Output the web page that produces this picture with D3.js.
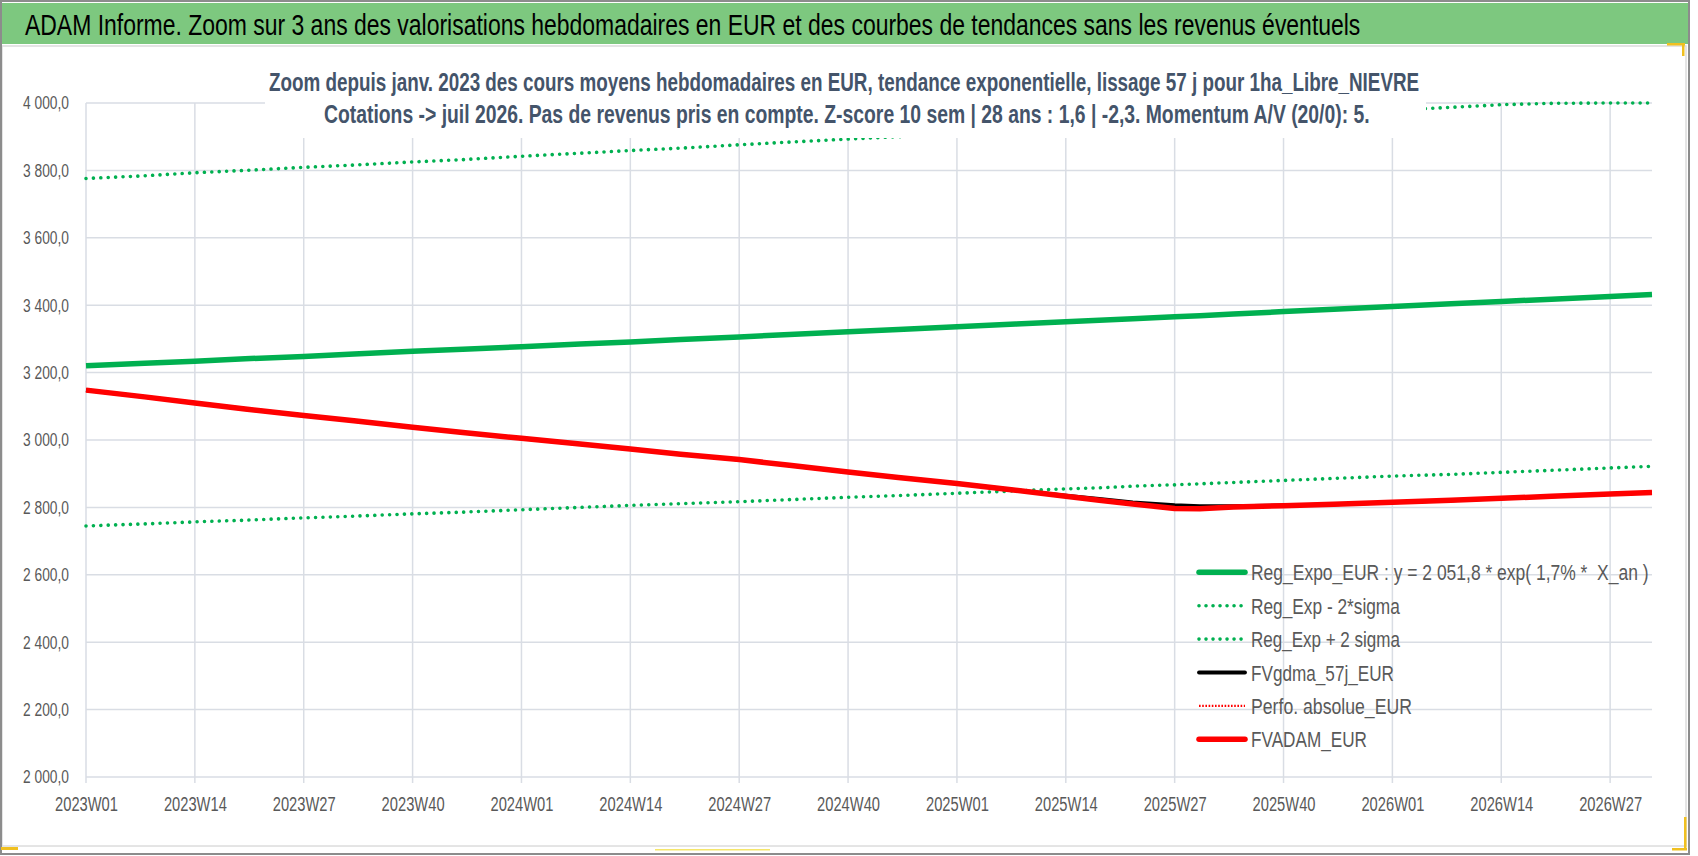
<!DOCTYPE html>
<html><head><meta charset="utf-8">
<script src="https://cdn.jsdelivr.net/npm/d3@7/dist/d3.min.js"></script>
<style>
body{margin:0;background:#fff;}
text{white-space:pre;}
</style>
</head><body>
<svg id="chart" width="1698" height="856"></svg>
<script>
// ---------- DATA ----------
const mainTitle = "ADAM Informe. Zoom sur 3 ans des valorisations hebdomadaires en EUR et des courbes de tendances sans les revenus éventuels";
const subTitle1 = "Zoom depuis janv. 2023 des cours moyens hebdomadaires en EUR, tendance exponentielle, lissage 57 j pour 1ha_Libre_NIEVRE";
const subTitle2 = "Cotations -> juil 2026. Pas de revenus pris en compte. Z-score 10 sem | 28 ans : 1,6 | -2,3. Momentum A/V (20/0): 5.";

const weekYears = [2023, 2024, 2025, 2026];
const weeksPerYear = [52, 52, 52, 32];
const tickLabels = ["2023W01","2023W14","2023W27","2023W40","2024W01","2024W14","2024W27","2024W40",
                    "2025W01","2025W14","2025W27","2025W40","2026W01","2026W14","2026W27"];
const yTicks = [2000,2200,2400,2600,2800,3000,3200,3400,3600,3800,4000];

const sampleWeeks = ["2023W01","2023W08","2023W14","2023W20","2023W27","2023W33","2023W40","2023W46",
                     "2024W01","2024W08","2024W14","2024W20","2024W27","2024W33","2024W40","2024W46",
                     "2025W01","2025W08","2025W14","2025W18","2025W22","2025W27","2025W30","2025W34","2025W40","2025W46",
                     "2026W01","2026W08","2026W14","2026W20","2026W27","2026W32"];
const regExpo  = [3220,3228,3234,3241,3248,3255,3263,3269, 3277,3285,3291,3298,3306,3313,3321,3328,
                  3336,3344,3351,3355,3360,3366,3369,3374,3381,3388, 3396,3404,3411,3418,3426,3432];
const regMinus = [2745,2751,2757,2762,2769,2774,2781,2786, 2793,2800,2806,2811,2817,2823,2830,2835,
                  2842,2849,2855,2858,2863,2867,2870,2874,2880,2886, 2893,2898,2904,2910,2917,2922];
const regPlus  = [3776,3784,3793,3800,3809,3816,3825,3832, 3842,3851,3859,3866,3876,3884,3893,3900,
                  3910,3919,3927,3932,3938,3944,3948,3953,3961,3969, 3979,3987,3995,3999,4000,4000];
const fvgdma   = [3148,3128,3110,3092,3073,3057,3038,3022, 3005,2988,2973,2958,2942,2925,2905,2889,
                  2871,2851,2835,2825,2815,2807,2804,2804,2806,2809, 2815,2821,2827,2833,2840,2844];
const perfoAbs = [];
const fvadam   = [3148,3128,3110,3092,3073,3057,3038,3022, 3005,2988,2973,2958,2942,2925,2905,2889,
                  2871,2851,2833,2821,2810,2797,2796,2801,2805,2809, 2815,2821,2827,2833,2840,2844];

const legendNames = ["Reg_Expo_EUR : y = 2 051,8 * exp( 1,7% *  X_an )","Reg_Exp - 2*sigma","Reg_Exp + 2 sigma",
                     "FVgdma_57j_EUR","Perfo. absolue_EUR","FVADAM_EUR"];

// ---------- SETUP ----------
const weeks = [];
weekYears.forEach((yr, i) => { for (let w = 1; w <= weeksPerYear[i]; w++) weeks.push(yr + "W" + String(w).padStart(2, "0")); });

const svg = d3.select("#chart");
const FONT = "'Liberation Sans Narrow','Liberation Sans','Noto Sans',sans-serif";
const plot = {left: 86, right: 1652, top: 103, bottom: 777};

const x = d3.scalePoint().domain(weeks).range([plot.left, plot.right]);
const y = d3.scaleLinear().domain([2000, 4000]).range([plot.bottom, plot.top]);

const loc = d3.formatLocale({decimal: ",", thousands: " ", grouping: [3], currency: ["", "€"]});
const fmt = loc.format(",.1f");

// horizontally condense a text to a given width (Calibri-like narrow look)
function fitWidth(sel, width) {
  sel.each(function () {
    const n = this.getComputedTextLength();
    const t = this.getAttribute("transform") || "";
    this.setAttribute("transform", (t + " scale(" + (width / n) + ",1)").trim());
  });
}
function label(txt, px, py, size, width, opts = {}) {
  const t = svg.append("text").attr("transform", `translate(${px},${py})`)
    .attr("font-family", FONT).attr("font-size", size)
    .attr("font-weight", opts.bold ? "bold" : "normal")
    .attr("fill", opts.fill || "#000").text(txt);
  fitWidth(t, width);
  return t;
}

// frame & banner
svg.append("rect").attr("x",0).attr("y",0).attr("width",1698).attr("height",856).attr("fill","#fff");
svg.append("rect").attr("x",2).attr("y",46).attr("width",1684).attr("height",800).attr("fill","#fff").attr("stroke","#dcdcdc").attr("stroke-width",1.5);
svg.append("rect").attr("x",2).attr("y",3).attr("width",1686).attr("height",41).attr("fill","#7dc87f");
svg.append("rect").attr("x",1).attr("y",1).attr("width",1688).attr("height",853).attr("fill","none").attr("stroke","#8c8c8c").attr("stroke-width",2);
// selection handle marks
const yel = "#f0c020";
svg.append("rect").attr("x",1).attr("y",847).attr("width",17).attr("height",3).attr("fill",yel);
svg.append("rect").attr("x",655).attr("y",849).attr("width",115).attr("height",1.5).attr("fill","#f5e66a");
svg.append("rect").attr("x",1667).attr("y",43).attr("width",18).attr("height",2.5).attr("fill",yel);
svg.append("rect").attr("x",1682).attr("y",43).attr("width",2.5).attr("height",13).attr("fill",yel);
svg.append("rect").attr("x",1684).attr("y",817).attr("width",2.5).attr("height",33).attr("fill",yel);
svg.append("rect").attr("x",1672).attr("y",848).attr("width",15).attr("height",2.5).attr("fill",yel);

label(mainTitle, 25, 35, 29, 1336);

// gridlines
const grid = svg.append("g");
grid.selectAll("line.h").data(yTicks).join("line")
  .attr("x1",plot.left).attr("x2",plot.right).attr("y1",d=>y(d)).attr("y2",d=>y(d))
  .attr("stroke","#d9dde4").attr("stroke-width",1.5);
grid.selectAll("line.v").data(tickLabels).join("line")
  .attr("x1",d=>x(d)).attr("x2",d=>x(d)).attr("y1",plot.top).attr("y2",plot.bottom+6)
  .attr("stroke","#d9dde4").attr("stroke-width",1.5);

// axes
const yAxis = svg.append("g").attr("transform",`translate(69,0)`)
  .call(d3.axisLeft(y).tickValues(yTicks).tickFormat(fmt).tickSize(0).tickPadding(0));
yAxis.select(".domain").remove();
yAxis.selectAll("text").attr("x",0).attr("font-family",FONT).attr("font-size",18.5).attr("fill","#595959");
fitWidth(yAxis.selectAll("text"), 46);

const xAxis = svg.append("g").attr("transform",`translate(0,${plot.bottom})`)
  .call(d3.axisBottom(x).tickValues(tickLabels).tickSize(0).tickPadding(0));
xAxis.select(".domain").remove();
xAxis.selectAll("text").attr("x",0).attr("font-family",FONT).attr("font-size",19.5).attr("fill","#595959")
  .attr("dy",null).attr("y",34);
fitWidth(xAxis.selectAll("text"), 63);

// series
const GREEN = "#00b050", RED = "#ff0000";
const series = [
  {vals: regExpo,  color: GREEN, w: 5.5, dash: null,        cap: "butt"},
  {vals: regMinus, color: GREEN, w: 3.6, dash: "0.01 7.4",  cap: "round"},
  {vals: regPlus,  color: GREEN, w: 3.6, dash: "0.01 7.4",  cap: "round"},
  {vals: fvgdma,   color: "#000", w: 3.8, dash: null,       cap: "butt"},
  {vals: perfoAbs, color: RED,   w: 2.2, dash: "1.6 1.6",   cap: "butt"},
  {vals: fvadam,   color: RED,   w: 5.5, dash: null,        cap: "butt"}
];
const line = d3.line().x(d=>x(d[0])).y(d=>y(d[1]));
const gLines = svg.append("g");
series.forEach(s => {
  if (!s.vals.length) return;
  const pts = sampleWeeks.map((wk, i) => [wk, s.vals[i]]);
  gLines.append("path").attr("d", line(pts)).attr("fill","none")
    .attr("stroke", s.color).attr("stroke-width", s.w)
    .attr("stroke-linecap", s.cap).attr("stroke-linejoin","round")
    .attr("stroke-dasharray", s.dash);
});

// subtitle box
svg.append("rect").attr("x",265).attr("y",52).attr("width",1161).attr("height",86).attr("fill","#fff");
label(subTitle1, 269, 91, 25.5, 1151, {bold: true, fill: "#44546a"});
label(subTitle2, 324, 123, 25.5, 1046, {bold: true, fill: "#44546a"});

// legend
const legendLen = [398,149,149,143,161,116];
legendNames.forEach((name, i) => {
  const s = series[i];
  const cy = 572.3 + i * 33.4;
  svg.append("line").attr("x1",1199).attr("x2",1245).attr("y1",cy).attr("y2",cy)
    .attr("stroke", s.color).attr("stroke-width", s.w)
    .attr("stroke-linecap", s.dash && s.cap!=="round" ? "butt" : "round")
    .attr("stroke-dasharray", s.dash ? (s.cap==="round" ? "0.01 7" : s.dash) : null);
  label(name, 1251, cy + 8, 22.5, legendLen[i], {fill: "#595959"});
});
</script>
</body></html>
